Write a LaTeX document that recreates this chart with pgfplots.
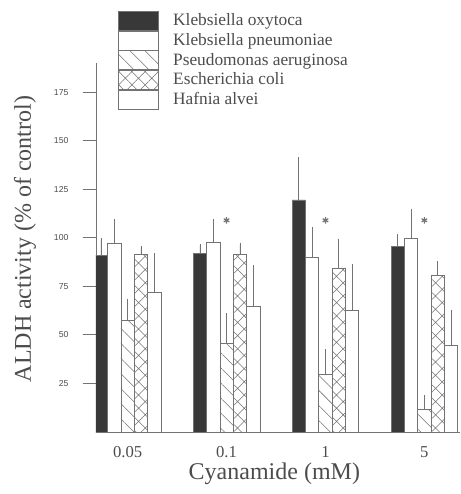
\documentclass[border=0pt]{standalone}
\usepackage{fontspec}
\setmainfont{Liberation Serif}
\setsansfont{Liberation Sans}
\usepackage{pgfplots}
\usepackage{pgfplotstable}
\pgfplotsset{compat=1.18}
\usetikzlibrary{patterns.meta}
\definecolor{ln}{gray}{0.45}
\definecolor{tx}{gray}{0.3}
\definecolor{dk}{gray}{0.22}
\pgfplotsset{mybar/.style={ybar, bar width=10pt, bar shift=0pt, draw=ln, line width=0.5pt,
  legend image code/.code={\draw[##1] (0pt,-7.12pt) rectangle (30pt,7.12pt);},
  error bars/y dir=plus, error bars/y explicit,
  error bars/error bar style={ln, line width=0.5pt},
  error bars/error mark options={ln, mark size=1.5pt, line width=0.5pt}}}
% bar offset (one bar width in axis units)
\def\bw{0.1348}
\pgfplotstableread{
x ko koe kp kpe pa pae ec ece ha hae
0 91 8 97 11.5 57.5 10 91.5 3 72 19
1 92 4 97.5 11 45.5 14.5 91.5 5 64.5 20.5
2 119.5 21 90 14.5 29.5 12 84.5 14 62.5 23
3 95.5 5.5 99.5 14.5 11.5 6.5 80.5 6.5 44.5 17.5
}\data
\begin{document}
\begin{tikzpicture}
\begin{axis}[name=ax, scale only axis, width=273pt, height=276.75pt,
  xmin=-0.32, xmax=3.36, ymin=0, ymax=190,
  axis lines=left, axis line style={-, ln, line width=0.6pt},
  xtick={0,1,2,3}, xticklabels={0.05,0.1,1,5}, xtick style={draw=none},
  ytick={25,50,...,175}, ytick pos=left, tick align=outside, major tick length=10pt,
  ytick style={ln, line width=0.6pt},
  /pgf/number format/assume math mode=true,
  yticklabel style={font=\fontsize{6.5}{7}\sffamily, text=tx, anchor=east, inner sep=0pt, xshift=-10.5pt},
  xticklabel style={font=\fontsize{12.5}{14}\selectfont, text=tx, anchor=north, inner sep=0pt, yshift=-0.5pt},
  xlabel={Cyanamide (mM)}, ylabel={ALDH activity (\% of control)},
  xlabel style={font=\fontsize{18}{20}\selectfont, text=tx, inner sep=0pt, at={(axis description cs:0.49,-0.112)}, anchor=center},
  ylabel style={font=\fontsize{18}{20}\selectfont, text=tx, at={(axis description cs:-0.195,0.523)}, anchor=center},
  legend style={at={(rel axis cs:0.06,1.141)}, anchor=north west, draw=none, fill=none,
    inner sep=0pt, outer sep=0pt, row sep=0pt, font=\fontsize{13}{14}\selectfont, text=tx,
    nodes={inner sep=0pt}},
  legend cell align=left,
]
\addplot[mybar, fill=dk] table[x expr=\thisrow{x}-2*\bw, y=ko, y error=koe] {\data};
\addplot[mybar, fill=white] table[x expr=\thisrow{x}-\bw, y=kp, y error=kpe] {\data};
\addplot[mybar, pattern={Lines[angle=-45,distance=8pt,line width=0.4pt]}, pattern color=ln] table[x=x, y=pa, y error=pae] {\data};
\addplot[mybar, pattern={Hatch[angle=45,distance=7pt,line width=0.4pt]}, pattern color=ln] table[x expr=\thisrow{x}+\bw, y=ec, y error=ece] {\data};
\addplot[mybar, fill=white] table[x expr=\thisrow{x}+2*\bw, y=ha, y error=hae] {\data};
\addplot[only marks, mark=asterisk, mark size=2.4pt, ln, line width=0.9pt, forget plot] coordinates {(1,109) (2,109) (3,109)};
\legend{\hspace{11pt}Klebsiella oxytoca, \hspace{11pt}Klebsiella pneumoniae, \hspace{11pt}Pseudomonas aeruginosa, \hspace{11pt}Escherichia coli, \hspace{11pt}Hafnia alvei}
\end{axis}
\path ([shift={(-72pt,-46.5pt)}]ax.south west) rectangle ([shift={(273pt,324pt)}]ax.south west);
\end{tikzpicture}
\end{document}
